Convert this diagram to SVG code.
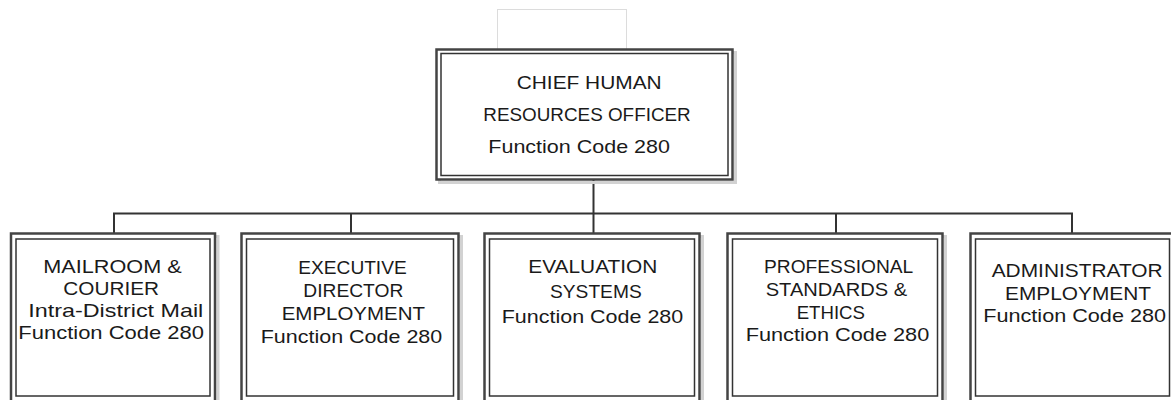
<svg xmlns="http://www.w3.org/2000/svg" width="1171" height="400" viewBox="0 0 1171 400">
  <style>
    .shadow { fill: none; stroke: #d2d2d2; stroke-width: 3; }
    .outer { fill: #ffffff; stroke: #444444; stroke-width: 2.5; }
    .inner { fill: none; stroke: #333333; stroke-width: 1.5; }
    .lbl { font-family: "Liberation Sans", Arial, sans-serif; font-size: 18.5px; fill: #1a1a1a; }
    .wire { fill: none; stroke: #333333; stroke-width: 2; }
    .ghost { fill: none; stroke: #dcdcdc; stroke-width: 1; }
  </style>

  <!-- faint placeholder frame above the top position -->
  <rect class="ghost" x="497.5" y="9.5" width="129" height="40"/>

  <!-- connectors -->
  <g id="connectors">
    <path class="wire" d="M593.5,180 V213.5"/>
    <path class="wire" d="M114,233.5 V213.5 H1072 V233.5"/>
    <path class="wire" d="M351,213.5 V233.5"/>
    <path class="wire" d="M593.5,213.5 V233.5"/>
    <path class="wire" d="M836,213.5 V233.5"/>
  </g>

  <!-- top position -->
  <g id="chief-hr-officer">
    <rect class="shadow" x="439.5" y="52.5" width="296" height="130"/>
    <rect class="outer" x="436.5" y="49.5" width="296" height="130"/>
    <rect class="inner" x="441" y="53.5" width="287" height="122"/>
    <text class="lbl" x="516.7" y="89.3" textLength="145" lengthAdjust="spacingAndGlyphs">CHIEF HUMAN</text>
    <text class="lbl" x="483.3" y="120.7" textLength="207.4" lengthAdjust="spacingAndGlyphs">RESOURCES OFFICER</text>
    <text class="lbl" x="488.3" y="153.3" textLength="181.7" lengthAdjust="spacingAndGlyphs">Function Code 280</text>
  </g>

  <!-- second level -->
  <g id="mailroom-courier">
    <rect class="shadow" x="14" y="236.5" width="204" height="180"/>
    <rect class="outer" x="11" y="233.5" width="204" height="180"/>
    <rect class="inner" x="16" y="239" width="194" height="157"/>
    <text class="lbl" x="43.3" y="273.3" textLength="138.4" lengthAdjust="spacingAndGlyphs">MAILROOM &amp;</text>
    <text class="lbl" x="63.3" y="295" textLength="95.7" lengthAdjust="spacingAndGlyphs">COURIER</text>
    <text class="lbl" x="28.3" y="316.9" textLength="175" lengthAdjust="spacingAndGlyphs">Intra-District Mail</text>
    <text class="lbl" x="18.3" y="339.3" textLength="185.7" lengthAdjust="spacingAndGlyphs">Function Code 280</text>
  </g>

  <g id="executive-director-employment">
    <rect class="shadow" x="244.5" y="236.5" width="217" height="180"/>
    <rect class="outer" x="241.5" y="233.5" width="217" height="180"/>
    <rect class="inner" x="246.5" y="239" width="207" height="157"/>
    <text class="lbl" x="298.3" y="274" textLength="108.4" lengthAdjust="spacingAndGlyphs">EXECUTIVE</text>
    <text class="lbl" x="303.3" y="296.7" textLength="100" lengthAdjust="spacingAndGlyphs">DIRECTOR</text>
    <text class="lbl" x="281.7" y="320" textLength="143.3" lengthAdjust="spacingAndGlyphs">EMPLOYMENT</text>
    <text class="lbl" x="260.7" y="342.7" textLength="181.6" lengthAdjust="spacingAndGlyphs">Function Code 280</text>
  </g>

  <g id="evaluation-systems">
    <rect class="shadow" x="487.5" y="236.5" width="215" height="180"/>
    <rect class="outer" x="484.5" y="233.5" width="215" height="180"/>
    <rect class="inner" x="489.5" y="239" width="205" height="157"/>
    <text class="lbl" x="528.3" y="272.7" textLength="129" lengthAdjust="spacingAndGlyphs">EVALUATION</text>
    <text class="lbl" x="550" y="298.3" textLength="91.7" lengthAdjust="spacingAndGlyphs">SYSTEMS</text>
    <text class="lbl" x="501.7" y="323.3" textLength="181.6" lengthAdjust="spacingAndGlyphs">Function Code 280</text>
  </g>

  <g id="professional-standards-ethics">
    <rect class="shadow" x="730.5" y="236.5" width="215" height="180"/>
    <rect class="outer" x="727.5" y="233.5" width="215" height="180"/>
    <rect class="inner" x="732.5" y="239" width="205" height="157"/>
    <text class="lbl" x="764" y="272.7" textLength="149.3" lengthAdjust="spacingAndGlyphs">PROFESSIONAL</text>
    <text class="lbl" x="765.7" y="296" textLength="141.6" lengthAdjust="spacingAndGlyphs">STANDARDS &amp;</text>
    <text class="lbl" x="796.7" y="319" textLength="68.3" lengthAdjust="spacingAndGlyphs">ETHICS</text>
    <text class="lbl" x="745.7" y="341" textLength="183.6" lengthAdjust="spacingAndGlyphs">Function Code 280</text>
  </g>

  <g id="administrator-employment">
    <rect class="shadow" x="973.5" y="236.5" width="204" height="180"/>
    <rect class="outer" x="970.5" y="233.5" width="204" height="180"/>
    <rect class="inner" x="975.5" y="239" width="194" height="157"/>
    <text class="lbl" x="991.7" y="277.3" textLength="171" lengthAdjust="spacingAndGlyphs">ADMINISTRATOR</text>
    <text class="lbl" x="1005" y="300" textLength="146" lengthAdjust="spacingAndGlyphs">EMPLOYMENT</text>
    <text class="lbl" x="983.3" y="321.7" textLength="182.7" lengthAdjust="spacingAndGlyphs">Function Code 280</text>
  </g>
</svg>
